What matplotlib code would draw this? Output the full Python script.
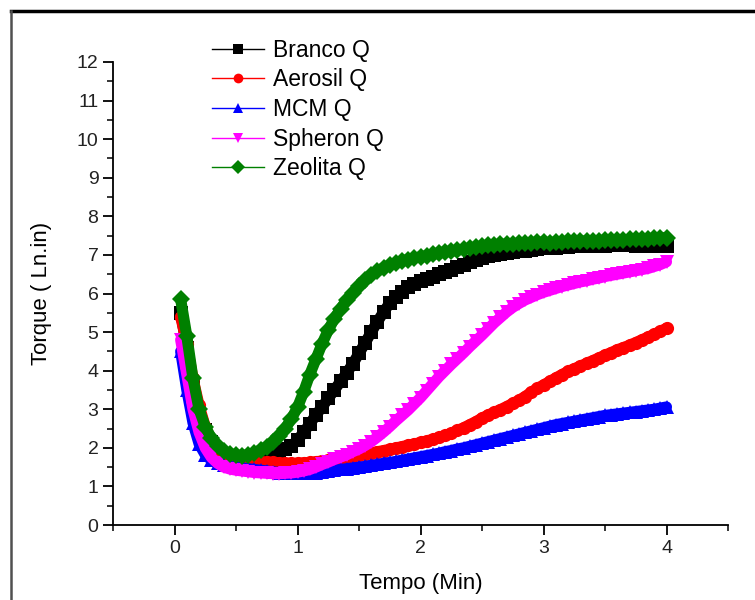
import numpy as np
import matplotlib
matplotlib.use('Agg')
from matplotlib import pyplot as plt
from matplotlib.lines import Line2D

plt.rcParams['font.family'] = ['Liberation Sans', 'DejaVu Sans']

# tempo de amostragem (min)
tempo = np.round(np.arange(0.05, 4.0001, 0.05), 2)

branco = [5.50, 4.60, 3.60, 2.90, 2.45, 2.15, 1.95, 1.85, 1.78, 1.75,
          1.72, 1.70, 1.70, 1.72, 1.76, 1.82, 1.88, 1.96, 2.05, 2.20,
          2.40, 2.62, 2.85, 3.06, 3.28, 3.50, 3.72, 3.94, 4.18, 4.45,
          4.72, 5.00, 5.27, 5.52, 5.75, 5.92, 6.05, 6.16, 6.25, 6.32,
          6.38, 6.44, 6.50, 6.56, 6.62, 6.68, 6.75, 6.82, 6.88, 6.93,
          6.97, 7.00, 7.03, 7.05, 7.07, 7.09, 7.11, 7.13, 7.15, 7.17,
          7.18, 7.19, 7.20, 7.21, 7.22, 7.22, 7.23, 7.23, 7.24, 7.24,
          7.25, 7.25, 7.25, 7.25, 7.24, 7.24, 7.23, 7.23, 7.22, 7.22]

aerosil = [5.40, 4.70, 3.80, 3.10, 2.55, 2.20, 1.97, 1.84, 1.76, 1.71,
           1.68, 1.66, 1.65, 1.64, 1.63, 1.62, 1.61, 1.60, 1.60, 1.60,
           1.61, 1.62, 1.64, 1.66, 1.68, 1.70, 1.72, 1.75, 1.78, 1.81,
           1.84, 1.87, 1.90, 1.93, 1.96, 2.00, 2.03, 2.07, 2.10, 2.14,
           2.18, 2.22, 2.27, 2.32, 2.38, 2.45, 2.52, 2.60, 2.68, 2.77,
           2.85, 2.92, 2.99, 3.07, 3.15, 3.23, 3.33, 3.44, 3.54, 3.63,
           3.72, 3.81, 3.90, 3.98, 4.05, 4.12, 4.19, 4.26, 4.33, 4.40,
           4.47, 4.54, 4.60, 4.66, 4.73, 4.80, 4.87, 4.94, 5.02, 5.10]

mcm = [4.50, 3.50, 2.65, 2.10, 1.82, 1.68, 1.60, 1.55, 1.52, 1.50,
       1.48, 1.46, 1.44, 1.42, 1.40, 1.38, 1.36, 1.35, 1.34, 1.34,
       1.34, 1.35, 1.36, 1.38, 1.40, 1.42, 1.44, 1.46, 1.48, 1.50,
       1.52, 1.55, 1.57, 1.60, 1.62, 1.65, 1.68, 1.71, 1.74, 1.77,
       1.80, 1.83, 1.86, 1.90, 1.93, 1.97, 2.00, 2.04, 2.08, 2.12,
       2.16, 2.20, 2.24, 2.28, 2.32, 2.36, 2.40, 2.44, 2.48, 2.52,
       2.56, 2.60, 2.63, 2.66, 2.69, 2.72, 2.75, 2.78, 2.81, 2.84,
       2.86, 2.88, 2.90, 2.92, 2.94, 2.96, 2.98, 3.00, 3.03, 3.06]

spheron = [4.80, 3.90, 3.00, 2.40, 2.00, 1.75, 1.60, 1.50, 1.45, 1.42,
           1.40, 1.38, 1.36, 1.35, 1.34, 1.33, 1.33, 1.34, 1.35, 1.37,
           1.40, 1.44, 1.50, 1.57, 1.63, 1.70, 1.76, 1.82, 1.90, 1.97,
           2.06, 2.16, 2.28, 2.41, 2.55, 2.70, 2.84, 2.98, 3.14, 3.30,
           3.48, 3.66, 3.84, 4.00, 4.16, 4.31, 4.46, 4.62, 4.77, 4.92,
           5.08, 5.24, 5.38, 5.52, 5.64, 5.74, 5.83, 5.90, 5.97, 6.03,
           6.08, 6.13, 6.18, 6.22, 6.26, 6.30, 6.33, 6.37, 6.40, 6.44,
           6.47, 6.50, 6.53, 6.56, 6.59, 6.62, 6.65, 6.70, 6.75, 6.82]

zeolita = [5.85, 4.90, 3.80, 3.00, 2.55, 2.25, 2.05, 1.92, 1.85, 1.81,
           1.80, 1.82, 1.87, 1.95, 2.03, 2.15, 2.30, 2.50, 2.75, 3.05,
           3.45, 3.90, 4.30, 4.70, 5.05, 5.35, 5.60, 5.83, 6.02, 6.20,
           6.35, 6.48, 6.58, 6.67, 6.74, 6.80, 6.85, 6.88, 6.92, 6.95,
           6.98, 7.02, 7.05, 7.08, 7.10, 7.12, 7.15, 7.18, 7.20, 7.22,
           7.25, 7.26, 7.27, 7.28, 7.29, 7.30, 7.31, 7.32, 7.33, 7.33,
           7.32, 7.33, 7.34, 7.35, 7.35, 7.36, 7.36, 7.37, 7.37, 7.38,
           7.38, 7.39, 7.39, 7.40, 7.41, 7.42, 7.42, 7.43, 7.44, 7.45]

series = [
    ('Branco Q', branco, 'black', 's'),
    ('Aerosil Q', aerosil, 'red', 'o'),
    ('MCM Q', mcm, 'blue', '^'),
    ('Spheron Q', spheron, 'magenta', 'v'),
    ('Zeolita Q', zeolita, 'green', 'D'),
]

fig = plt.figure(figsize=(7.55, 6), dpi=100)
ax = fig.add_axes([113 / 755, 75 / 600, 615 / 755, 463 / 600])

for nome, vals, cor, mk in series:
    # banda grossa para imitar pontos densos
    ax.plot(tempo, vals, color=cor, lw=8, solid_capstyle='round')
    ax.plot(tempo, vals, color=cor, lw=1, marker=mk, markersize=9.5,
            markeredgewidth=0, label=nome)

ax.set_xlim(-0.5, 4.5)
ax.set_ylim(0, 12)
ax.set_xticks([0, 1, 2, 3, 4])
ax.set_xticks(np.arange(-0.5, 4.6, 0.5), minor=True)
ax.set_yticks(range(0, 13))
ax.set_yticks(np.arange(0, 12.1, 0.5), minor=True)

for s in ['top', 'right']:
    ax.spines[s].set_visible(False)
for s in ['left', 'bottom']:
    ax.spines[s].set_linewidth(1.3)

ax.tick_params(which='major', direction='out', length=7, width=1.3,
               labelsize=14, labelcolor='#222222')
ax.tick_params(which='minor', direction='out', length=4, width=1.1)

ax.set_xlabel('Tempo (Min)', fontsize=16, labelpad=12)
ax.set_ylabel('Torque ( Ln.in)', fontsize=16, labelpad=18)

handles = [Line2D([], [], color=c, lw=1, marker=m, markersize=7,
                  markeredgewidth=0) for _, _, c, m in series]
labels = [n for n, _, _, _ in series]
ax.legend(handles, labels, loc='upper left', bbox_to_anchor=(0.161, 1.05),
          frameon=False, fontsize=16.5, handlelength=2.25, handletextpad=0.4,
          labelspacing=0.29, borderpad=0, borderaxespad=0)

# moldura da figura
fig.add_artist(Line2D([11 / 755, 1], [1 - 11 / 600, 1 - 11 / 600],
                      transform=fig.transFigure, color='black', lw=2.5))
fig.add_artist(Line2D([11 / 755, 11 / 755], [0, 1 - 11 / 600],
                      transform=fig.transFigure, color='#505050', lw=1.8))

fig.savefig('out.png', dpi=100)
